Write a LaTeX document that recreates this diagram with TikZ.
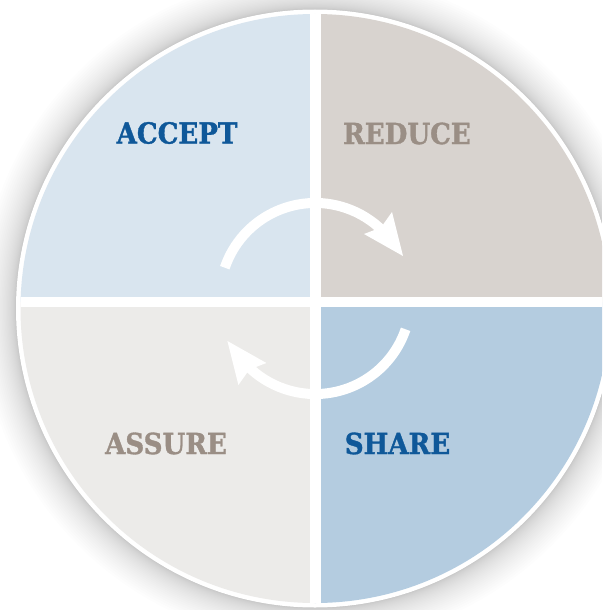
\documentclass[tikz,border=0pt]{standalone}
\usepackage{fontspec}
\setmainfont{DejaVu Serif}
\newfontfamily\labelfont[FakeStretch=0.9, BoldFeatures={FakeBold=1.2}]{DejaVu Serif}
\definecolor{acceptbg}{HTML}{D9E5EF}
\definecolor{reducebg}{HTML}{D8D3CF}
\definecolor{assurebg}{HTML}{ECEBE9}
\definecolor{sharebg}{HTML}{B4CCE0}
\definecolor{bluetext}{HTML}{0F5899}
\definecolor{greytext}{HTML}{9A8E85}
% one white arrow of the cycle: an arc with a notched head
\newcommand\cyclearrowpath{%
  \draw[cycle arrow] (224.8,267.7) arc[start angle=-161.2, end angle=-45, radius=95.5];
  \fill[white] (392,212) -- (403,256) -- (364,234) -- (381,227.5) -- cycle;
}
\begin{document}
\begin{tikzpicture}[x=1pt,y=-1pt,
  quadlabel/.style={font=\labelfont\bfseries\fontsize{29}{29}\selectfont, inner sep=0pt, anchor=center},
  cycle arrow/.style={draw=white, line width=10pt, line cap=butt}]
\useasboundingbox (0,0) rectangle (602,610);
\clip (0,0) rectangle (602,610);
\fill[white] (0,0) rectangle (602,610);
\coordinate (disc) at (315,308.5);
% soft shadow around the disc
\foreach \i in {1,...,30}
  \fill[black, opacity=0.009] (315,308.5) circle ({299+0.04*\i*\i});
% white rim
\fill[white] (315,308.5) circle (299);
% four quadrants separated by a white cross
\begin{scope}
  \clip (315,308.5) circle (294.5);
  \fill[acceptbg] (0,0) rectangle (315.25,301.5);
  \fill[reducebg] (315.25,0) rectangle (620,301.5);
  \fill[assurebg] (0,301.5) rectangle (315.25,620);
  \fill[sharebg] (315.25,301.5) rectangle (620,620);
  \draw[white, line width=10.5pt] (315.25,0) -- (315.25,620);
  \draw[white, line width=10pt] (0,301.5) -- (620,301.5);
\end{scope}
% circular arrows
\cyclearrowpath
\begin{scope}[rotate around={180:(315.2,298.5)}]
  \cyclearrowpath
\end{scope}
% labels
\node[quadlabel, text=bluetext] (accept) at (177,133) {ACCEPT};
\node[quadlabel, text=greytext] (reduce) at (407,133.5) {REDUCE};
\node[quadlabel, text=greytext] (assure) at (166,443.5) {ASSURE};
\node[quadlabel, text=bluetext] (share) at (397.5,443.5) {SHARE};
\end{tikzpicture}
\end{document}
